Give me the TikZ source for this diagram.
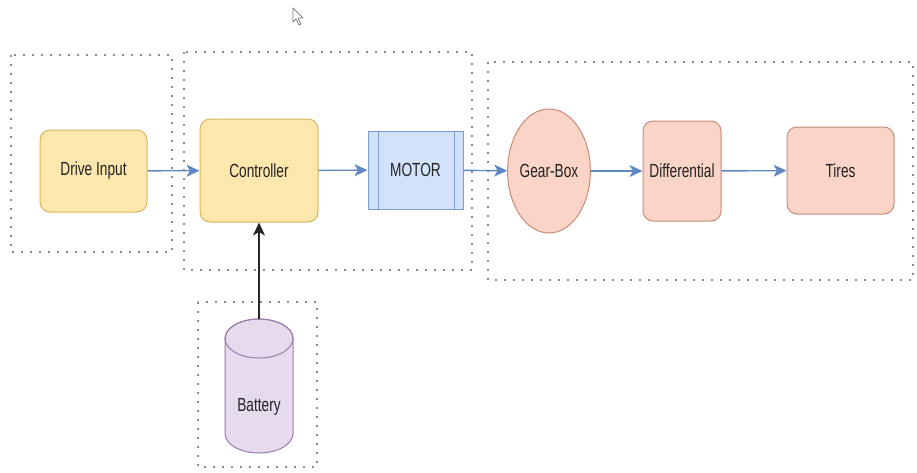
\documentclass[tikz,border=0pt]{standalone}
\usepackage{fontspec}
\setmainfont{Liberation Sans}[FakeStretch=0.72]
\usetikzlibrary{shapes.geometric,arrows.meta}

\definecolor{yelFill}{HTML}{FDE7AC}
\definecolor{yelLine}{HTML}{D9B45E}
\definecolor{bluFill}{HTML}{D2E2FA}
\definecolor{bluLine}{HTML}{7E9DCC}
\definecolor{redFill}{HTML}{FAD4C6}
\definecolor{redLine}{HTML}{C98A78}
\definecolor{purFill}{HTML}{E6DAED}
\definecolor{purLine}{HTML}{9A7BAA}
\definecolor{flowBlue}{HTML}{5F88C2}
\definecolor{dotGray}{HTML}{8A8A8A}
\definecolor{txt}{HTML}{222222}

\tikzset{
  group/.style={draw=dotGray, line width=1.8pt, dash pattern=on 1.6pt off 7.4pt},
  block/.style={draw, line width=1pt, inner sep=0pt, text=txt,
    font=\fontsize{19}{21}\selectfont},
  yelbox/.style={block, rectangle, rounded corners=10pt, fill=yelFill, draw=yelLine},
  redbox/.style={block, rectangle, rounded corners=10pt, fill=redFill, draw=redLine},
  tip/.style={-{Stealth[length=13pt,width=12pt,inset=3.5pt]}},
  flow/.style={draw=flowBlue, line width=1.4pt, tip},
  feed/.style={draw=black!85, line width=1.4pt, tip},
}

\begin{document}
\begin{tikzpicture}[x=1pt,y=-1pt]
\useasboundingbox (0,0) rectangle (917,472);

% dotted group outlines
\draw[group] (11,55) rectangle (172,252);
\draw[group] (184,52) rectangle (472,270);
\draw[group] (488,62) rectangle (913,280);
\draw[group] (198,302) rectangle (317,467);

% mouse pointer
\draw[gray, line width=0.8pt, line join=round]
  (293,8) -- (293,22) -- (296,19) -- (299,25) -- (301,24) -- (298,18) -- (303,18) -- cycle;

% blocks
\node[yelbox, minimum width=107pt, minimum height=82pt] (drive) at (93.5,171) {Drive Input};
\node[yelbox, minimum width=118pt, minimum height=103pt] (ctrl) at (259,170.5) {Controller};
\node[block, rectangle, fill=bluFill, draw=bluLine, minimum width=95pt, minimum height=78pt] (motor) at (415.5,170) {MOTOR};
\draw[bluLine, line width=1pt] ([xshift=11pt]motor.north west) -- ([xshift=11pt]motor.south west);
\draw[bluLine, line width=1pt] ([xshift=-9pt]motor.north east) -- ([xshift=-9pt]motor.south east);
\node[block, ellipse, fill=redFill, draw=redLine, minimum width=82pt, minimum height=124pt] (gear) at (549,171) {Gear-Box};
\node[redbox, minimum width=78pt, minimum height=100pt] (diff) at (682,171) {Differential};
\node[redbox, minimum width=107pt, minimum height=87pt] (tires) at (840.5,170.5) {Tires};

% battery: a cylinder drawn round an invisible node
\node[minimum width=68pt, minimum height=134pt, inner sep=0pt] (battery) at (259,386) {};
\draw[fill=purFill, draw=purLine, line width=1pt]
  (225,338.5) -- (225,433.5) arc[start angle=180, end angle=0, x radius=34, y radius=19.5]
  -- (293,338.5) arc[start angle=0, end angle=-180, x radius=34, y radius=19.5] -- cycle;
\draw[draw=purLine, line width=1pt] (259,338.5) ellipse[x radius=34, y radius=19.5];
\node[text=txt, font=\fontsize{19}{21}\selectfont] (batlabel) at (259,407) {Battery};

% connectors
\draw[flow] (drive) -- (ctrl);
\draw[flow] (ctrl) -- (motor);
\draw[flow] (motor) -- (gear);
\draw[flow] (gear) -- (diff);
\draw[flow] (diff) -- (tires);
\draw[feed] (battery.north) -- (ctrl.south);
\end{tikzpicture}
\end{document}
